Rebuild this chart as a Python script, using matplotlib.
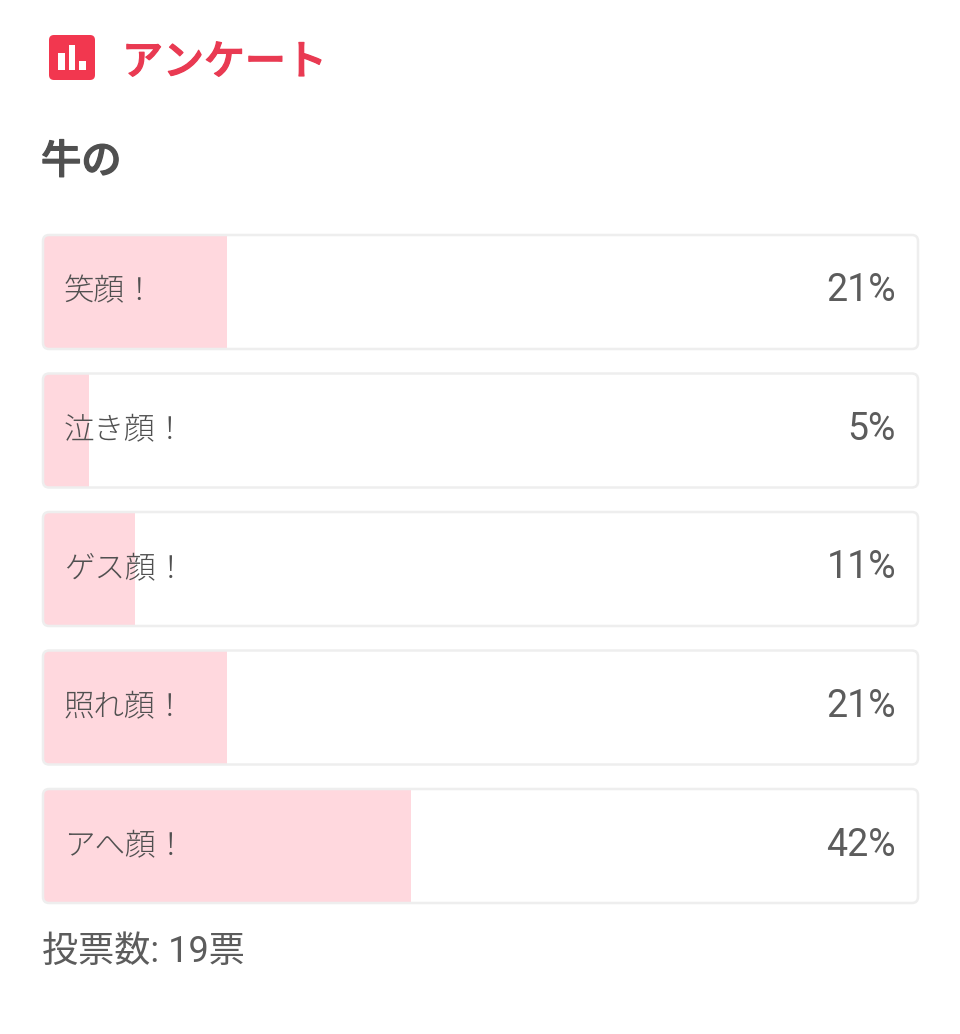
import matplotlib
matplotlib.use("Agg")
import matplotlib.pyplot as plt
import matplotlib.patheffects as pe
from matplotlib.patches import FancyBboxPatch, Rectangle

plt.rcParams['font.family'] = ['Noto Sans CJK JP', 'DejaVu Sans']

# poll data
title = "アンケート"
question = "牛の"
options = ["笑顔！", "泣き顔！", "ゲス顔！", "照れ顔！", "アへ顔！"]
votes = [4, 1, 2, 4, 8]
pct_labels = ["21%", "5%", "11%", "21%", "42%"]
footer = "投票数: 19票"

# icon bars, left to right
icon_heights = [17, 25, 9]

RED = "#e93a52"
TEXT = "#505050"
SOFT = "#5c5c5c"
BAR = "#ffd8de"
EDGE = "#eeeeee"

W, H = 960, 1034
fig = plt.figure(figsize=(W / 100, H / 100), dpi=100, facecolor="white")

# whole figure in pixels, for the header, frames and footer
bg = fig.add_axes([0, 0, 1, 1])
bg.set_xlim(0, W)
bg.set_ylim(H, 0)
bg.axis("off")

# header icon
bg.add_patch(FancyBboxPatch((52, 38), 40, 39, boxstyle="round,pad=3,rounding_size=5",
                            fc="#f2374f", ec="none"))
for x, h in zip([58, 68.5, 79], icon_heights):
    bg.add_patch(Rectangle((x, 70 - h), 6.5, h, fc="white", ec="none"))

t1 = bg.text(122, 63, title, fontsize=29.5, fontweight="medium", color=RED, va="center", ha="left")
t2 = bg.text(41, 162, question, fontsize=29, fontweight="medium", color=TEXT, va="center", ha="left")
for t, c in [(t1, RED), (t2, TEXT)]:
    t.set_path_effects([pe.withStroke(linewidth=0.9, foreground=c)])
bg.text(42, 952, footer, fontsize=26, color=SOFT, va="center", ha="left",
        family=["Roboto", "Noto Sans CJK JP"])

# bars, x is share of all votes
left, right = 43, 918
top, bottom = 235, 903
step = 138.5
bar_h = 114 / step
ax = fig.add_axes([left / W, 1 - bottom / H, (right - left) / W, (bottom - top) / H])
ax.set_xlim(0, 1)
ax.set_ylim(len(votes) - 1 + bar_h / 2, -bar_h / 2)
ax.axis("off")
ax.patch.set_alpha(0)

total = sum(votes)
shares = [v / total for v in votes]
ypos = range(len(votes))
bars = ax.barh(ypos, shares, height=bar_h, color=BAR, linewidth=0, zorder=1)

for y, bar, name, pct in zip(ypos, bars, options, pct_labels):
    frame = FancyBboxPatch((0, y - bar_h / 2), 1, bar_h,
                           boxstyle="round,pad=0,rounding_size=0.007", mutation_aspect=6.3,
                           fc="none", ec=EDGE, lw=1.8, zorder=2, clip_on=False)
    ax.add_patch(frame)
    bar.set_clip_path(frame)
    ax.text(21 / 875, y - 1 / step, name, fontsize=22, color=TEXT, va="center", ha="left",
            fontweight="light", zorder=3)
    ax.text(1 - 22 / 875, y - 1 / step, pct, fontsize=27, color=SOFT, va="center", ha="right",
            family=["Roboto", "Noto Sans CJK JP"], zorder=3)

fig.savefig("out.png", dpi=100, facecolor="white")
